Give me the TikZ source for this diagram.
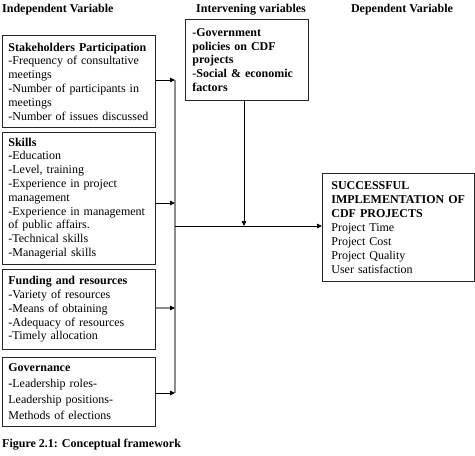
\documentclass[tikz,border=0pt]{standalone}
\usepackage{fontspec}
\setmainfont{Liberation Serif}
\usetikzlibrary{arrows.meta}
\hyphenpenalty=10000
\exhyphenpenalty=10000
\begin{document}
\begin{tikzpicture}[x=1pt,y=-1pt,
  box/.style={draw=black!85, line width=0.8pt, anchor=north west, align=left,
    inner xsep=6pt, inner ysep=0pt, font=\fontsize{12}{13.8}\selectfont},
  head/.style={font=\fontsize{12}{14}\selectfont\bfseries, inner sep=0pt},
  conn/.style={line width=0.8pt, black, -{Triangle[length=5pt,width=4.5pt,black]}},
  bus/.style={line width=1.6pt, black!45}
]
\useasboundingbox (0,0) rectangle (475,456);

\node[head, anchor=base west] (hind) at (2,12) {Independent Variable};
\node[head, anchor=base] (hint) at (251,12) {Intervening variables};
\node[head, anchor=base] (hdep) at (402,12) {Dependent Variable};

\node[box, text width=141pt, minimum height=92pt] (stake) at (2,35)
  {\textbf{Stakeholders Participation}\\-Frequency of consultative\\meetings\\-Number of participants in\\meetings\\-Number of issues discussed};
\node[box, text width=141pt, minimum height=132pt] (skills) at (2,132)
  {\textbf{Skills}\\\textbf{-}Education\\-Level, training\\-Experience in project\\management\\-Experience in management\\of public affairs.\\-Technical skills\\-Managerial skills};
\node[box, text width=141pt, minimum height=80pt] (fund) at (2,269)
  {\textbf{Funding and resources}\\-Variety of resources\\-Means of obtaining\\-Adequacy of resources\\-Timely allocation};
\node[box, text width=141pt, minimum height=69pt, font=\fontsize{12}{16}\selectfont] (gov) at (2,357)
  {\textbf{Governance}\\\textbf{-}Leadership roles-\\Leadership positions-\\Methods of elections};

\node[box, inner xsep=7pt, text width=109pt, minimum height=81pt, font=\fontsize{12}{13.8}\selectfont\bfseries] (interv) at (185,19)
  {-Government\\policies on CDF\\projects\\-Social \& economic\\factors};

\node[box, inner xsep=9pt, text width=134pt, minimum height=108pt, font=\fontsize{12}{14}\selectfont] (dep) at (322,173)
  {\textbf{SUCCESSFUL}\\\textbf{IMPLEMENTATION OF}\\\textbf{CDF PROJECTS}\\Project Time\\Project Cost\\Project Quality\\User satisfaction};

\node[head, anchor=base west] (cap) at (2,447) {Figure 2.1: Conceptual framework};

\coordinate (bustop) at (175,80);
\coordinate (busbot) at (175,393);
\coordinate (busmid) at (175,226);
\coordinate (join) at (244,226);

\draw[bus] (bustop) -- (busbot);
\draw[conn] (stake.east |- bustop) -- (bustop);
\draw[conn] (skills.east |- 0,203) -- (175,203);
\draw[conn, draw=black!45, line width=1.4pt] (fund.east |- 0,308) -- (175,308);
\draw[conn] (gov.east |- busbot) -- (busbot);
\draw[conn] (busmid) -- (dep.west |- busmid);
\draw[conn] (interv.south -| join) -- (join);
\end{tikzpicture}
\end{document}
